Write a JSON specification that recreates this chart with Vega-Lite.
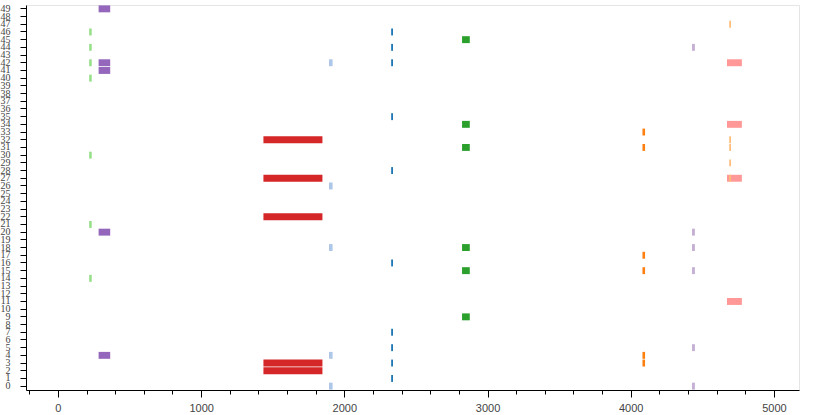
{
  "$schema": "https://vega.github.io/schema/vega-lite/v6.json",
  "width": 773,
  "height": 385,
  "autosize": {"type": "none"},
  "padding": {"left": 26, "top": 5, "right": 31, "bottom": 25},
  "background": "white",
  "config": {
    "view": {"stroke": "#e5e5e5", "strokeWidth": 1},
    "axis": {"grid": false, "domainColor": "black", "tickColor": "black", "labelColor": "#444444", "labelFont": "Liberation Sans", "title": null}
  },
  "data": {
    "values": [
      {"r": 46, "x": 2327, "x2": 2340, "c": "a"},
      {"r": 44, "x": 2327, "x2": 2340, "c": "a"},
      {"r": 42, "x": 2327, "x2": 2340, "c": "a"},
      {"r": 35, "x": 2327, "x2": 2340, "c": "a"},
      {"r": 28, "x": 2327, "x2": 2340, "c": "a"},
      {"r": 16, "x": 2327, "x2": 2340, "c": "a"},
      {"r": 7, "x": 2327, "x2": 2340, "c": "a"},
      {"r": 5, "x": 2327, "x2": 2340, "c": "a"},
      {"r": 3, "x": 2327, "x2": 2340, "c": "a"},
      {"r": 1, "x": 2327, "x2": 2340, "c": "a"},
      {"r": 42, "x": 1893, "x2": 1918, "c": "b"},
      {"r": 26, "x": 1893, "x2": 1918, "c": "b"},
      {"r": 18, "x": 1893, "x2": 1918, "c": "b"},
      {"r": 4, "x": 1893, "x2": 1918, "c": "b"},
      {"r": 0, "x": 1893, "x2": 1918, "c": "b"},
      {"r": 33, "x": 4082, "x2": 4100, "c": "c"},
      {"r": 31, "x": 4082, "x2": 4100, "c": "c"},
      {"r": 17, "x": 4082, "x2": 4100, "c": "c"},
      {"r": 15, "x": 4082, "x2": 4100, "c": "c"},
      {"r": 4, "x": 4082, "x2": 4100, "c": "c"},
      {"r": 3, "x": 4082, "x2": 4100, "c": "c"},
      {"r": 45, "x": 2822, "x2": 2876, "c": "e"},
      {"r": 34, "x": 2822, "x2": 2876, "c": "e"},
      {"r": 31, "x": 2822, "x2": 2876, "c": "e"},
      {"r": 18, "x": 2822, "x2": 2876, "c": "e"},
      {"r": 15, "x": 2822, "x2": 2876, "c": "e"},
      {"r": 9, "x": 2822, "x2": 2876, "c": "e"},
      {"r": 46, "x": 218, "x2": 236, "c": "f"},
      {"r": 44, "x": 218, "x2": 236, "c": "f"},
      {"r": 42, "x": 218, "x2": 236, "c": "f"},
      {"r": 40, "x": 218, "x2": 236, "c": "f"},
      {"r": 30, "x": 218, "x2": 236, "c": "f"},
      {"r": 21, "x": 218, "x2": 236, "c": "f"},
      {"r": 14, "x": 218, "x2": 236, "c": "f"},
      {"r": 32, "x": 1435, "x2": 1847, "c": "g"},
      {"r": 27, "x": 1435, "x2": 1847, "c": "g"},
      {"r": 22, "x": 1435, "x2": 1847, "c": "g"},
      {"r": 3, "x": 1435, "x2": 1847, "c": "g"},
      {"r": 2, "x": 1435, "x2": 1847, "c": "g"},
      {"r": 42, "x": 4672, "x2": 4776, "c": "h"},
      {"r": 34, "x": 4672, "x2": 4776, "c": "h"},
      {"r": 27, "x": 4672, "x2": 4776, "c": "h"},
      {"r": 11, "x": 4672, "x2": 4776, "c": "h"},
      {"r": 47, "x": 4688, "x2": 4700, "c": "d"},
      {"r": 32, "x": 4688, "x2": 4700, "c": "d"},
      {"r": 31, "x": 4688, "x2": 4700, "c": "d"},
      {"r": 29, "x": 4688, "x2": 4700, "c": "d"},
      {"r": 27, "x": 4688, "x2": 4700, "c": "d"},
      {"r": 49, "x": 284, "x2": 365, "c": "i"},
      {"r": 42, "x": 284, "x2": 365, "c": "i"},
      {"r": 41, "x": 284, "x2": 365, "c": "i"},
      {"r": 20, "x": 284, "x2": 365, "c": "i"},
      {"r": 4, "x": 284, "x2": 365, "c": "i"},
      {"r": 44, "x": 4428, "x2": 4448, "c": "j"},
      {"r": 20, "x": 4428, "x2": 4448, "c": "j"},
      {"r": 18, "x": 4428, "x2": 4448, "c": "j"},
      {"r": 15, "x": 4428, "x2": 4448, "c": "j"},
      {"r": 5, "x": 4428, "x2": 4448, "c": "j"},
      {"r": 0, "x": 4428, "x2": 4448, "c": "j"}
    ]
  },
  "mark": {"type": "bar", "strokeWidth": 0},
  "encoding": {
    "y": {
      "field": "r",
      "type": "ordinal",
      "scale": {
        "domain": [49,48,47,46,45,44,43,42,41,40,39,38,37,36,35,34,33,32,31,30,29,28,27,26,25,24,23,22,21,20,19,18,17,16,15,14,13,12,11,10,9,8,7,6,5,4,3,2,1,0],
        "paddingInner": 0.1,
        "paddingOuter": 0.05
      },
      "axis": {"tickSize": 6, "labelPadding": 10, "labelFontSize": 10, "labelFont": "Liberation Sans Narrow", "labelOverlap": false, "labelBound": false}
    },
    "x": {
      "field": "x",
      "type": "quantitative",
      "scale": {"domain": [-223, 5175], "nice": false, "zero": false},
      "axis": {
        "values": [-200,0,200,400,600,800,1000,1200,1400,1600,1800,2000,2200,2400,2600,2800,3000,3200,3400,3600,3800,4000,4200,4400,4600,4800,5000],
        "labelExpr": "datum.value % 1000 === 0 ? format(datum.value, 'd') : ''",
        "tickSize": {"condition": {"test": "datum.value % 1000 === 0", "value": 7}, "value": 4},
        "labelPadding": 5,
        "labelFontSize": 11,
        "labelOverlap": false,
        "labelFlush": false
      }
    },
    "x2": {"field": "x2"},
    "color": {
      "field": "c",
      "type": "nominal",
      "scale": {
        "domain": ["a","b","c","d","e","f","g","h","i","j"],
        "range": ["#1f77b4","#aec7e8","#ff7f0e","#ffbb78","#2ca02c","#98df8a","#d62728","#ff9896","#9467bd","#c5b0d5"]
      },
      "legend": null
    }
  }
}
